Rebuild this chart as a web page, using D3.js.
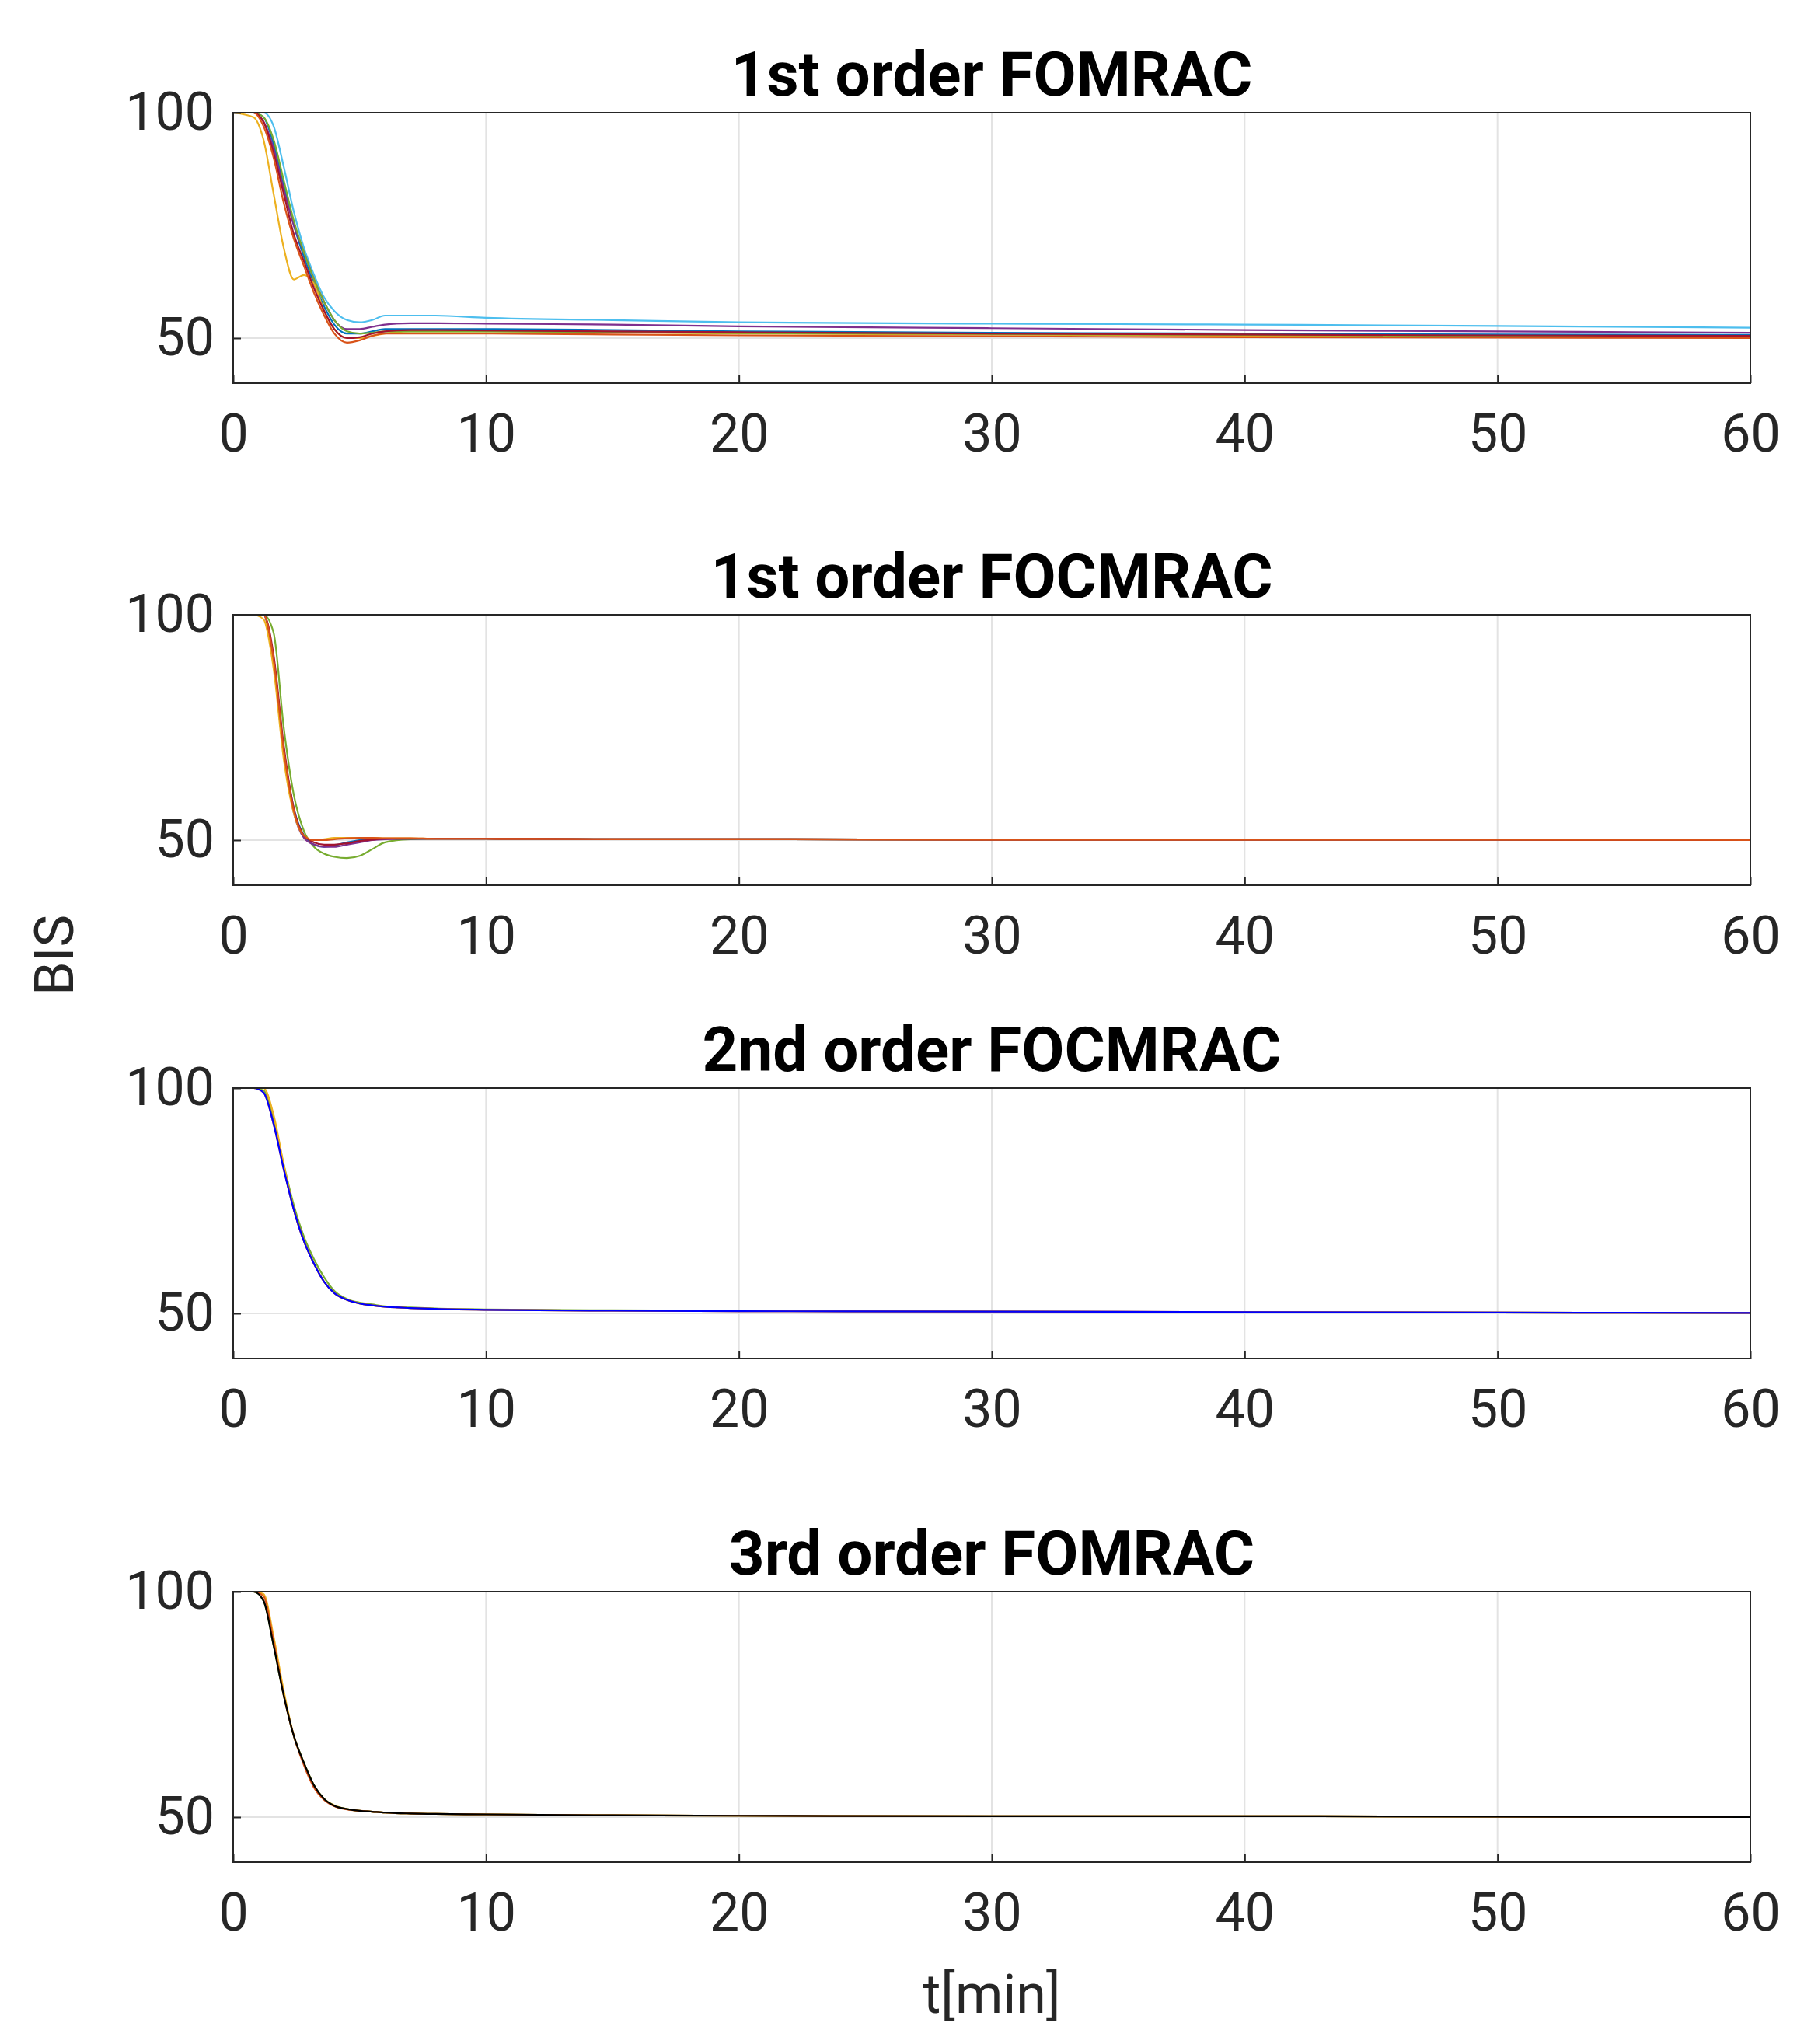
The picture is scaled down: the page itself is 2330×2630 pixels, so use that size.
<!DOCTYPE html>
<html><head><meta charset="utf-8">
<script src="https://cdn.jsdelivr.net/npm/d3@7"></script>
<style>body{margin:0;background:#fff}</style></head>
<body><div id="chart"></div>
<script>
const T = [0,0.8,1.2,1.6,2,2.4,2.8,3.2,3.6,4,4.5,5,5.5,6,7,8,10,15,20,30,40,50,60]
const xTicks = [0,10,20,30,40,50,60]
const yTicks = [50,100]
const titles = ['1st order FOMRAC','1st order FOCMRAC','2nd order FOCMRAC','3rd order FOMRAC']

const panel1 = [
  {c:'#0072BD', v:[100,100,99,93,84,75,68,62,57,53,51,51,51.5,52,52,52,52,51.8,51.5,51.2,51,50.8,50.7]},
  {c:'#4DBEEE', v:[100,100,100,97,88,78,70,64,59,56,54,53.5,54,55,55,55,54.5,54,53.5,53.2,53,52.7,52.3]},
  {c:'#EDB120', v:[100,99,94,82,70,63,64,62,56,52,50,50,50.5,51,51.5,51.5,51.5,51.3,51,50.8,50.5,50.3,50.2]},
  {c:'#7E2F8E', v:[100,100,98,92,83,75,69,63,58,54,52,52,52.5,53,53.3,53.3,53.2,53,52.6,52.2,51.8,51.5,51.2]},
  {c:'#77AC30', v:[100,100,99,94,85,76,69,63,58,54,51.5,51,51.2,51.5,51.5,51.5,51.5,51.3,51.1,50.9,50.7,50.5,50.4]},
  {c:'#A2142F', v:[100,100,98,91,82,73,67,61,56,52,50,50.2,51,51.5,51.8,51.8,51.7,51.5,51.3,51,50.8,50.6,50.5]},
  {c:'#D95319', v:[100,100,97,90,80,72,66,60,55,51,49,49.5,50.5,51,51,51,51,50.8,50.6,50.4,50.2,50.1,50]}
]
const panel2 = [
  {c:'#77AC30', v:[100,100,100,96,75,60,52,48.5,47,46.3,46,46.5,48,49.5,50.2,50.3,50.3,50.2,50.2,50.1,50.1,50.1,50]},
  {c:'#0072BD', v:[100,100,100,90,70,57,51,49,48.5,48.8,49.5,50,50.2,50.3,50.3,50.3,50.3,50.2,50.2,50.1,50.1,50.1,50]},
  {c:'#7E2F8E', v:[100,100,100,89,69,56,50.5,49,48.5,48.5,49,49.5,50,50.2,50.3,50.3,50.3,50.2,50.2,50.1,50.1,50.1,50]},
  {c:'#EDB120', v:[100,100,99,88,68,56,51,50,50.2,50.5,50.5,50.5,50.5,50.4,50.4,50.3,50.3,50.2,50.2,50.1,50.1,50.1,50]},
  {c:'#A2142F', v:[100,100,100,91,71,57,51,49.5,49,49,49.3,49.8,50.1,50.3,50.3,50.3,50.3,50.2,50.2,50.1,50.1,50.1,50]},
  {c:'#D95319', v:[100,100,100,90,70,56.5,51,50,50,50.2,50.4,50.5,50.5,50.4,50.4,50.3,50.3,50.2,50.2,50.1,50.1,50.1,50]}
]
const panel3 = [
  {c:'#77AC30', v:[100,100,99.5,93,83,74,67,62,58,55,53.2,52.4,52,51.6,51.3,51.1,50.9,50.7,50.6,50.4,50.3,50.2,50.1]},
  {c:'#EDB120', v:[100,100,100,94,83,73,66,61,57,54.5,53,52.2,51.8,51.5,51.2,51,50.8,50.6,50.5,50.4,50.3,50.2,50.1]},
  {c:'#D95319', v:[100,100,99,92,82,73,66,61,57,54.5,53,52.2,51.8,51.5,51.2,51,50.8,50.6,50.5,50.4,50.3,50.2,50.1]},
  {c:'#0000FF', v:[100,100,99,92,82,73,66,61,57,54.5,53,52.2,51.8,51.5,51.2,51,50.8,50.6,50.5,50.4,50.3,50.2,50.1]}
]
const panel4 = [
  {c:'#EDB120', v:[100,100,99.5,90,78,68,62,57,54,52.6,51.8,51.4,51.2,51,50.8,50.7,50.6,50.4,50.3,50.2,50.2,50.1,50]},
  {c:'#77AC30', v:[100,100,98,88,77,68,62,57,54,52.5,51.8,51.4,51.2,51,50.8,50.7,50.6,50.4,50.3,50.2,50.2,50.1,50]},
  {c:'#D95319', v:[100,100,99,89,77,68,61.5,56.5,53.8,52.4,51.7,51.4,51.2,51,50.8,50.7,50.6,50.4,50.3,50.2,50.2,50.1,50]},
  {c:'#000000', v:[100,100,98,88,77,68,62,57,54,52.5,51.8,51.4,51.2,51,50.8,50.7,50.6,50.4,50.3,50.2,50.2,50.1,50]}
]
const panels = [panel1, panel2, panel3, panel4]

const W = 2330, H = 2630
const left = 300, right = 2252, ph = 348
const tops = [145, 791, 1400, 2048]
const FONT = 'Roboto, "DejaVu Sans", sans-serif'

const svg = d3.select('#chart').append('svg').attr('width', W).attr('height', H)
  .style('font-family', FONT)

const x = d3.scaleLinear().domain([0, 60]).range([left, right])

panels.forEach((series, i) => {
  const top = tops[i]
  const y = d3.scaleLinear().domain([40, 100]).range([top + ph, top])
  const g = svg.append('g')

  // grid
  g.selectAll('line.gx').data(xTicks).enter().append('line')
    .attr('x1', d => x(d)).attr('x2', d => x(d)).attr('y1', top).attr('y2', top + ph)
    .attr('stroke', '#e3e3e3').attr('stroke-width', 2)
  g.selectAll('line.gy').data(yTicks).enter().append('line')
    .attr('x1', left).attr('x2', right).attr('y1', d => y(d)).attr('y2', d => y(d))
    .attr('stroke', '#e3e3e3').attr('stroke-width', 2)

  const line = d3.line().x((d, k) => x(T[k])).y(d => y(d)).curve(d3.curveMonotoneX)
  g.selectAll('path.s').data(series).enter().append('path')
    .attr('d', d => line(d.v)).attr('fill', 'none').attr('stroke', d => d.c).attr('stroke-width', 2.2)

  // box
  g.append('rect').attr('x', left).attr('y', top).attr('width', right - left).attr('height', ph)
    .attr('fill', 'none').attr('stroke', '#262626').attr('stroke-width', 2)

  const xa = g.append('g').attr('transform', `translate(0,${top + ph})`)
    .call(d3.axisBottom(x).tickValues(xTicks).tickSize(-10).tickPadding(40))
  const ya = g.append('g').attr('transform', `translate(${left},0)`)
    .call(d3.axisLeft(y).tickValues(yTicks).tickSize(-10).tickPadding(24))
  ;[xa, ya].forEach(a => {
    a.select('.domain').remove()
    a.selectAll('line').attr('stroke', '#262626').attr('stroke-width', 2)
    a.selectAll('text').attr('font-size', 68).attr('fill', '#262626').style('font-family', FONT)
  })

  svg.append('text').attr('x', (left + right) / 2).attr('y', top - 22)
    .attr('text-anchor', 'middle').attr('font-size', 80).attr('font-weight', 'bold')
    .attr('fill', '#000').text(titles[i])
})

svg.append('text').attr('transform', 'translate(94,1229) rotate(-90)')
  .attr('text-anchor', 'middle').attr('font-size', 70).attr('fill', '#262626').text('BIS')
svg.append('text').attr('x', (left + right) / 2).attr('y', 2590)
  .attr('text-anchor', 'middle').attr('font-size', 70).attr('fill', '#262626').text('t[min]')
</script></body></html>
